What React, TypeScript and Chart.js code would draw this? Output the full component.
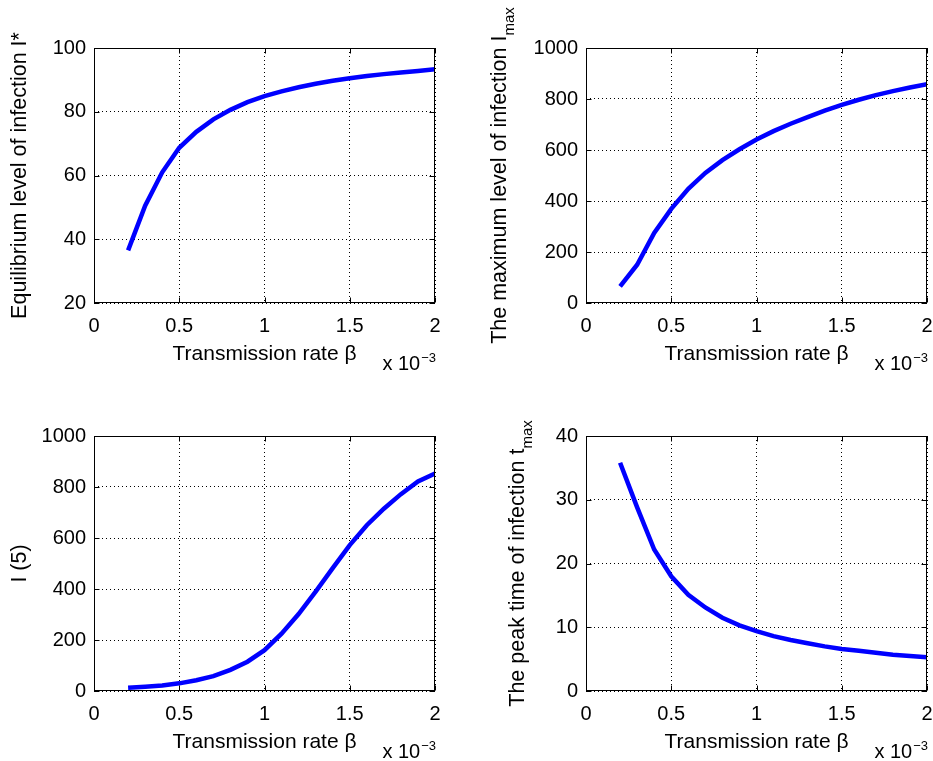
import React, { useEffect, useRef } from "react";
import { Chart, registerables } from "chart.js";

Chart.register(...registerables);

// Transmission rate beta, in units of 10^-3
const betaValues = [0.2, 0.3, 0.4, 0.5, 0.6, 0.7, 0.8, 0.9, 1.0, 1.1, 1.2, 1.3, 1.4, 1.5, 1.6, 1.7, 1.8, 1.9, 2.0];
const equilibriumI = [36.5, 50.5, 61, 68.7, 73.7, 77.6, 80.6, 83, 84.9, 86.4, 87.7, 88.8, 89.7, 90.5, 91.2, 91.8, 92.3, 92.8, 93.3];
const maximumI = [65, 150, 275, 369, 448, 510, 560, 603, 641, 674, 703, 729, 754, 777, 797, 815, 831, 845, 858];
const infectionAt5 = [13, 17, 22, 30, 42, 58, 83, 115, 160, 225, 302, 390, 482, 572, 650, 715, 772, 822, 853];
const peakTime = [35.8, 28.8, 22.2, 18, 15.1, 13.1, 11.5, 10.3, 9.4, 8.6, 8.0, 7.5, 7.0, 6.6, 6.3, 6.0, 5.7, 5.5, 5.3];

const xTickValues = [0, 0.5, 1, 1.5, 2];
const xTitle = "Transmission rate \u03b2";
const xExponentBase = "x 10";
const xExponent = "\u22123";

const FONT = "'Liberation Sans', Arial, Helvetica, sans-serif";

type Panel = {
  id: string;
  left: number;
  top: number;
  width: number;
  height: number;
  area: { left: number; top: number; right: number; bottom: number };
  values: number[];
  yMin: number;
  yMax: number;
  yStep: number;
  yTitle: string;
  ySub: string;
  yTitleX: number;
};

const panels: Panel[] = [
  {
    id: "eq", left: 0, top: 0, width: 466, height: 380,
    area: { left: 94, top: 48, right: 435, bottom: 303 },
    values: equilibriumI, yMin: 20, yMax: 100, yStep: 20,
    yTitle: "Equilibrium level of infection I*", ySub: "", yTitleX: 26,
  },
  {
    id: "max", left: 466, top: 0, width: 467, height: 380,
    area: { left: 120, top: 48, right: 461, bottom: 303 },
    values: maximumI, yMin: 0, yMax: 1000, yStep: 200,
    yTitle: "The maximum level of infection I", ySub: "max", yTitleX: 40,
  },
  {
    id: "i5", left: 0, top: 380, width: 466, height: 381,
    area: { left: 94, top: 56, right: 435, bottom: 311 },
    values: infectionAt5, yMin: 0, yMax: 1000, yStep: 200,
    yTitle: "I (5)", ySub: "", yTitleX: 26,
  },
  {
    id: "tmax", left: 466, top: 380, width: 467, height: 381,
    area: { left: 120, top: 56, right: 461, bottom: 311 },
    values: peakTime, yMin: 0, yMax: 40, yStep: 10,
    yTitle: "The peak time of infection t", ySub: "max", yTitleX: 58,
  },
];

function makeDecor(p: Panel) {
  return {
    id: "matlabDecor_" + p.id,
    afterDraw(chart: any) {
      const { ctx, chartArea: a, scales } = chart;
      ctx.save();
      ctx.setLineDash([]);
      ctx.strokeStyle = "#000";
      ctx.lineWidth = 1;
      const L = Math.round(a.left) + 0.5;
      const T = Math.round(a.top) + 0.5;
      const R = Math.round(a.right) - 0.5;
      const B = Math.round(a.bottom) - 0.5;
      ctx.strokeRect(L, T, R - L, B - T);
      const tl = 5;
      ctx.beginPath();
      for (const v of xTickValues) {
        const px = Math.round(scales.x.getPixelForValue(v)) + 0.5;
        ctx.moveTo(px, B); ctx.lineTo(px, B - tl);
        ctx.moveTo(px, T); ctx.lineTo(px, T + tl);
      }
      for (let v = p.yMin; v <= p.yMax + 1e-9; v += p.yStep) {
        const py = Math.round(scales.y.getPixelForValue(v)) + 0.5;
        ctx.moveTo(L, py); ctx.lineTo(L + tl, py);
        ctx.moveTo(R, py); ctx.lineTo(R - tl, py);
      }
      ctx.stroke();

      ctx.fillStyle = "#000";
      // x title
      ctx.font = `21px ${FONT}`;
      ctx.textAlign = "center";
      ctx.textBaseline = "alphabetic";
      ctx.fillText(xTitle, (a.left + a.right) / 2, a.bottom + 57);

      // exponent label
      ctx.textAlign = "left";
      ctx.font = `13px ${FONT}`;
      const wExp = ctx.measureText(xExponent).width;
      ctx.font = `20px ${FONT}`;
      const wBase = ctx.measureText(xExponentBase).width;
      const startX = a.right - wExp - wBase;
      const baseY = a.bottom + 67;
      ctx.fillText(xExponentBase, startX, baseY);
      ctx.font = `13px ${FONT}`;
      ctx.fillText(xExponent, startX + wBase + 1, baseY - 8);

      // y title (rotated)
      const cy = (a.top + a.bottom) / 2;
      ctx.translate(p.yTitleX, cy);
      ctx.rotate(-Math.PI / 2);
      ctx.font = `21.5px ${FONT}`;
      const wMain = ctx.measureText(p.yTitle).width;
      ctx.font = `15px ${FONT}`;
      const wSub = p.ySub ? ctx.measureText(p.ySub).width : 0;
      const total = wMain + wSub;
      ctx.textAlign = "left";
      ctx.font = `21.5px ${FONT}`;
      ctx.fillText(p.yTitle, -total / 2, 0);
      if (p.ySub) {
        ctx.font = `15px ${FONT}`;
        ctx.fillText(p.ySub, -total / 2 + wMain, 8);
      }
      ctx.restore();
    },
  };
}

function SubPlot({ p }: { p: Panel }) {
  const ref = useRef<HTMLCanvasElement | null>(null);
  useEffect(() => {
    if (!ref.current) return;
    const xH = 50;
    const chart = new Chart(ref.current, {
      type: "line",
      data: {
        datasets: [
          {
            data: betaValues.map((b, i) => ({ x: b, y: p.values[i] })),
            borderColor: "#0000ff",
            borderWidth: 4.5,
            pointRadius: 0,
            tension: 0,
            fill: false,
          },
        ],
      },
      options: {
        animation: false,
        responsive: false,
        events: [],
        layout: {
          padding: {
            left: 0,
            top: p.area.top,
            right: p.width - p.area.right,
            bottom: p.height - p.area.bottom - xH,
          },
        },
        plugins: { legend: { display: false }, tooltip: { enabled: false }, title: { display: false } },
        scales: {
          x: {
            type: "linear",
            min: 0,
            max: 2,
            afterBuildTicks: (s: any) => { s.ticks = xTickValues.map((v) => ({ value: v })); },
            afterFit: (s: any) => {
              s.height = xH;
              s.paddingLeft = 0;
              s.paddingRight = 0;
            },
            ticks: {
              color: "#000",
              font: { family: FONT, size: 20 },
              padding: 11,
              maxRotation: 0,
              autoSkip: false,
              callback: (v: any) => String(v),
            },
            grid: { color: "#000", lineWidth: 1, drawTicks: false },
            border: { display: false, dash: [1, 3] },
          },
          y: {
            type: "linear",
            min: p.yMin,
            max: p.yMax,
            ticks: {
              stepSize: p.yStep,
              color: "#000",
              font: { family: FONT, size: 20 },
              padding: 8,
              autoSkip: false,
              callback: (v: any) => String(v),
            },
            afterFit: (s: any) => {
              s.width = p.area.left;
              s.paddingTop = 0;
              s.paddingBottom = 0;
            },
            grid: { color: "#000", lineWidth: 1, drawTicks: false },
            border: { display: false, dash: [1, 3] },
          },
        },
      },
      plugins: [makeDecor(p)],
    } as any);
    return () => chart.destroy();
  }, [p]);
  return (
    <canvas
      ref={ref}
      width={p.width}
      height={p.height}
      style={{ position: "absolute", left: p.left, top: p.top, width: p.width, height: p.height }}
    />
  );
}

export default function App() {
  return (
    <div style={{ position: "absolute", left: 0, top: 0, width: 933, height: 761, background: "#fff", overflow: "hidden" }}>
      {panels.map((p) => (
        <SubPlot key={p.id} p={p} />
      ))}
    </div>
  );
}
